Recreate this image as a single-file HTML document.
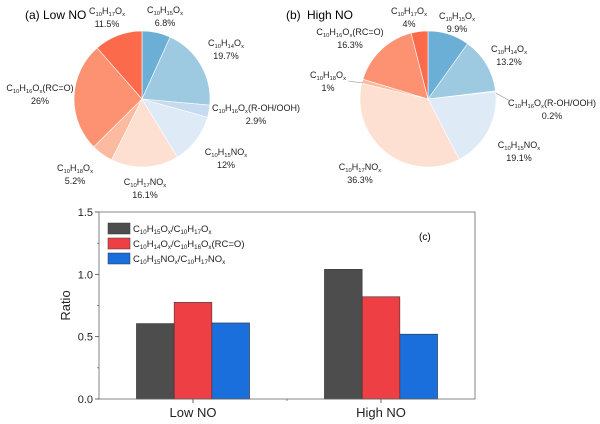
<!DOCTYPE html>
<html><head><meta charset="utf-8"><style>
html,body{margin:0;padding:0;background:#fff;}
svg{display:block;font-family:"Liberation Sans",Arial,sans-serif;}
</style></head><body>
<svg id="fig" width="600" height="424" viewBox="0 0 600 424" xmlns="http://www.w3.org/2000/svg">
<text x="25" y="19" font-size="12">(a) Low NO</text>
<text x="286" y="19" font-size="12">(b)</text>
<text x="307" y="19" font-size="12">High NO</text>
<text x="419" y="240" font-size="10">(c)</text>
<g id="pies"></g>
<g id="bars"></g>
</svg>
<script>
// Pie data
const pieNames = ["C{10}H{15}O{x}","C{10}H{14}O{x}","C{10}H{16}O{x}(R-OH/OOH)","C{10}H{15}NO{x}","C{10}H{17}NO{x}","C{10}H{18}O{x}","C{10}H{16}O{x}(RC=O)","C{10}H{17}O{x}"];
const pieLowNO = [6.8,19.7,2.9,12,16.1,5.2,26,11.5];
const pieHighNO = [9.9,13.2,0.2,19.1,36.3,1,16.3,4];
const pieColors = ["#6baed6","#9ecae1","#c6dbef","#deebf7","#fee0d2","#fcbba1","#fc9272","#fb6a4a"];
// Bar data
const barCategories = ["Low NO","High NO"];
const seriesNames = ["C{10}H{15}O{x}/C{10}H{17}O{x}","C{10}H{14}O{x}/C{10}H{16}O{x}(RC=O)","C{10}H{15}NO{x}/C{10}H{17}NO{x}"];
const seriesA = [0.605,1.04];
const seriesB = [0.775,0.82];
const seriesC = [0.61,0.52];
const yTicks = ["0.0","0.5","1.0","1.5"];

const NS="http://www.w3.org/2000/svg";
const svg=document.getElementById('fig');
function mk(tag,attrs,parent){const e=document.createElementNS(NS,tag);for(const k in attrs)e.setAttribute(k,attrs[k]);(parent||svg).appendChild(e);return e;}
function formula(str,x,y,size,anchor,parent){
  const t=mk('text',{x:x,y:y,'font-size':size,'text-anchor':anchor||'start',fill:'#222'},parent);
  const parts=str.split(/(\{[^}]*\})/);let sub=false;
  parts.forEach(p=>{if(!p)return;const ts=document.createElementNS(NS,'tspan');
    if(p[0]=='{'){ts.textContent=p.slice(1,-1);ts.setAttribute('font-size',size*0.65);ts.setAttribute('dy',sub?0:2);sub=true;}
    else{ts.textContent=p;ts.setAttribute('dy',sub?-2:0);sub=false;}
    t.appendChild(ts);});
  return t;
}
const pies=document.getElementById('pies');
function pie(vals,cx,cy,r,name){
  const tot=vals.reduce((a,b)=>a+b,0);let a0=0;
  vals.forEach((v,i)=>{const a1=a0+v/tot*2*Math.PI;
    const x0=cx+r*Math.sin(a0),y0=cy-r*Math.cos(a0),x1=cx+r*Math.sin(a1),y1=cy-r*Math.cos(a1);
    const p=mk('path',{d:`M${cx},${cy}L${x0},${y0}A${r},${r} 0 ${a1-a0>Math.PI?1:0} 1 ${x1},${y1}Z`,fill:pieColors[i],stroke:'#fff','stroke-width':0.6},pies);
    
    
    a0=a1;});
}
pie(pieLowNO,142,99,68,'low-no-pie');
pie(pieHighNO,428,99,68,'high-no-pie');
// labels: [nameIndex, x, y, pctY, pctX]
const labA=[[0,165,13,26,165],[1,226,46,59,226],[2,212,111,124,256],[3,226,155,168,226],[4,145,185,198,145],[5,75,171,184,75],[6,40,91,104,40],[7,107,14,27,107]];
const labB=[[0,457,19,32,457],[1,509,52,65,509],[2,508,106,119,552],[3,519,148,161,519],[4,360,170,183,360],[5,328,78,91,328],[6,350,35,48,350],[7,409,14,27,409]];
function labels(L,vals,name){L.forEach(l=>{const isStart=l[0]==2;
  const t=formula(pieNames[l[0]],l[1],l[2],9,isStart?'start':'middle',pies);
  
  
  const p=mk('text',{x:l[4],y:l[3],'font-size':9,'text-anchor':'middle',fill:'#222'},pies);
  p.textContent=vals[l[0]]+'%';
  
  });}
labels(labA,pieLowNO,'low-no');
labels(labB,pieHighNO,'high-no');
mk('line',{x1:348,y1:81,x2:363,y2:83,stroke:'#888','stroke-width':0.6},pies);
mk('line',{x1:496,y1:93,x2:510,y2:101,stroke:'#888','stroke-width':0.6},pies);

// Bar chart
const bars=document.getElementById('bars');
const X0=99,X1=475,Y0=399,Y1=212;
const yS=v=>Y0-(v/1.5)*(Y0-Y1);
const groupCenter=i=>193+i*188;
const bw=37.7;
const series=[seriesA,seriesB,seriesC];
const sColors=["#4d4d4d","#ee4044","#1a6fdc"];
series.forEach((s,si)=>s.forEach((v,ci)=>{
  const x=groupCenter(ci)+(si-1.5)*bw;
  const r=mk('rect',{x:x,y:yS(v),width:bw,height:Y0-yS(v),fill:sColors[si],stroke:'#333','stroke-width':0.6},bars);
  
  
}));
const frame=mk('rect',{x:X0,y:Y1,width:X1-X0,height:Y0-Y1,fill:'none',stroke:'#666','stroke-width':0.8},bars);


yTicks.forEach(t=>{const y=yS(parseFloat(t));
  mk('line',{x1:X0-4,y1:y,x2:X0,y2:y,stroke:'#444','stroke-width':0.8},bars);
  const tx=mk('text',{x:X0-6,y:y+4,'font-size':11,'text-anchor':'end',fill:'#222'},bars);tx.textContent=t;
  
  
  const ym=yS(parseFloat(t)+0.25); if(parseFloat(t)<1.5) mk('line',{x1:X0-2,y1:ym,x2:X0,y2:ym,stroke:'#444','stroke-width':0.6},bars);
});
barCategories.forEach((c,i)=>{const x=groupCenter(i);
  mk('line',{x1:x,y1:Y0,x2:x,y2:Y0+4,stroke:'#444','stroke-width':0.8},bars);
  const tx=mk('text',{x:x,y:Y0+18,'font-size':13,'text-anchor':'middle',fill:'#222'},bars);tx.textContent=c;
  
  });
mk('line',{x1:287,y1:Y0,x2:287,y2:Y0+2,stroke:'#444','stroke-width':0.6},bars);
const yt=mk('text',{x:0,y:0,'font-size':13,'text-anchor':'middle',transform:`translate(70,${(Y0+Y1)/2}) rotate(-90)`,fill:'#222'},bars);
yt.textContent='Ratio';


seriesNames.forEach((n,i)=>{const y=223+i*15;
  const r=mk('rect',{x:108,y:y,width:22,height:11,fill:sColors[i],stroke:'#333','stroke-width':0.5},bars);
  
  
  const t=formula(n,133,y+9,9.5,'start',bars);
  
  });
</script>
</body></html>
